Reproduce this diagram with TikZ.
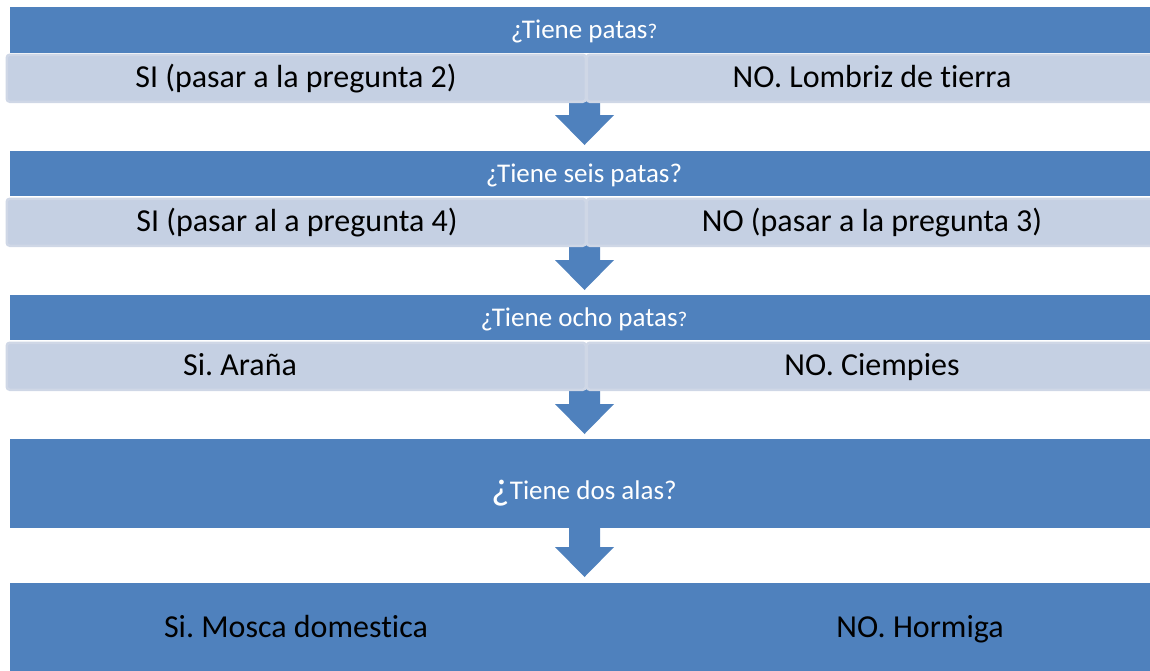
\documentclass[tikz,border=0pt]{standalone}
\usepackage{fontspec}
\setmainfont{Carlito}[Ligatures={NoCommon}]
\frenchspacing
\definecolor{barblue}{HTML}{4F81BD}
\definecolor{rowfill}{HTML}{C5D0E3}
\definecolor{rowedge}{HTML}{CFD7E6}
\begin{document}
\begin{tikzpicture}[x=1pt,y=-1pt,
  bar/.style={fill=barblue, draw=none, anchor=north west, inner sep=0pt},
  cell/.style={fill=rowfill, draw=rowedge, line width=2.5pt, rounded corners=3pt,
    anchor=north west, inner sep=0pt},
  head/.style={text=white, font=\fontsize{27}{30}\selectfont, inner sep=0pt, anchor=base},
  body/.style={text=black, font=\fontsize{32}{36}\selectfont, inner sep=0pt, anchor=base},
  downarr/.pic={\fill[barblue] (-15.5,-25) -- (15.5,-25) -- (15.5,0) -- (29.5,0)
      -- (0,30) -- (-29.5,0) -- (-15.5,0) -- cycle;}
]
\useasboundingbox (0,0) rectangle (1150,670);
% arrows (drawn first, bars cover their tails)
\pic at (584.5,115) {downarr};
\pic at (584.5,260) {downarr};
\pic at (584.5,404) {downarr};
\pic at (584.5,547) {downarr};
% level 1
\node[bar, minimum width=1150pt, minimum height=46pt] (q1) at (10,7) {};
\node[head] (q1t) at (584,38) {¿Tiene patas{\fontsize{21}{24}\selectfont ?}};
\node[cell, minimum width=579pt, minimum height=47pt] (a1) at (5.5,53.5) {};
\node[cell, minimum width=579pt, minimum height=47pt] (b1) at (585.5,53.5) {};
\node[body] (a1t) at (296,87) {SI (pasar a la pregunta 2)};
\node[body] (b1t) at (872,87) {NO. Lombriz de tierra};
% level 2
\node[bar, minimum width=1150pt, minimum height=45pt] (q2) at (10,151) {};
\node[head] (q2t) at (584,182) {¿Tiene seis patas?};
\node[cell, minimum width=579pt, minimum height=47pt] (a2) at (5.5,197.5) {};
\node[cell, minimum width=579pt, minimum height=47pt] (b2) at (585.5,197.5) {};
\node[body] (a2t) at (297,231) {SI (pasar al a pregunta 4)};
\node[body] (b2t) at (872,231) {NO (pasar a la pregunta 3)};
% level 3
\node[bar, minimum width=1150pt, minimum height=45pt] (q3) at (10,295) {};
\node[head] (q3t) at (584,326) {¿Tiene ocho patas{\fontsize{21}{24}\selectfont ?}};
\node[cell, minimum width=579pt, minimum height=47pt] (a3) at (5.5,341.5) {};
\node[cell, minimum width=579pt, minimum height=47pt] (b3) at (585.5,341.5) {};
\node[body] (a3t) at (240,375) {Si. Araña};
\node[body] (b3t) at (872,375) {NO. Ciempies};
% level 4
\node[bar, minimum width=1150pt, minimum height=89pt] (q4) at (10,439) {};
\node[head] (q4t) at (584,499) {{\fontsize{40}{42}\selectfont ¿}Tiene dos alas?};
% level 5
\node[bar, minimum width=1150pt, minimum height=100pt] (q5) at (10,583) {};
\node[body] (a5t) at (296,637) {Si. Mosca domestica};
\node[body] (b5t) at (920,637) {NO. Hormiga};
\end{tikzpicture}
\end{document}
